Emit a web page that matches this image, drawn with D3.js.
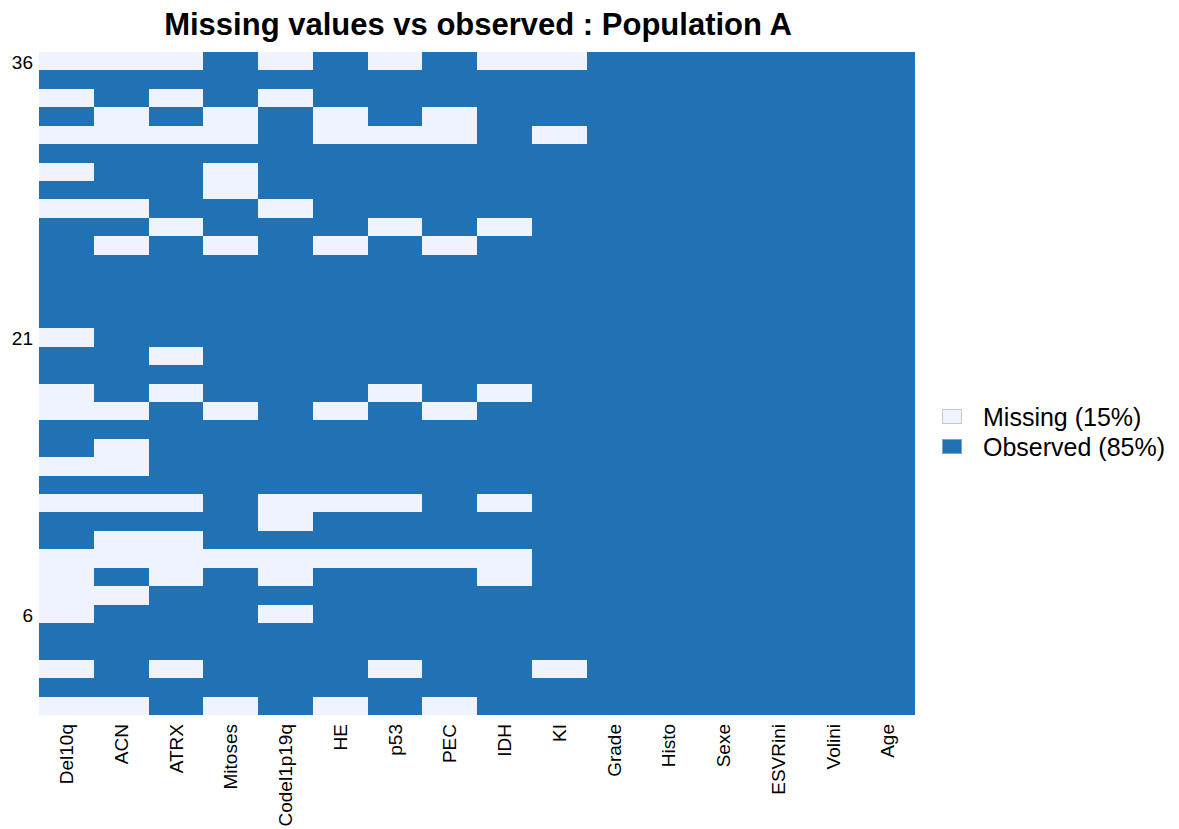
<!DOCTYPE html>
<html>
<head>
<meta charset="utf-8">
<script src="https://cdn.jsdelivr.net/npm/d3@7"></script>
<style>
  html, body { margin: 0; padding: 0; background: #fff; }
  svg { display: block; font-family: "Liberation Sans", Arial, sans-serif; }
</style>
</head>
<body>
<svg id="chart" width="1179" height="829"></svg>
<script>
// ---- data ----
const title = "Missing values vs observed : Population A";
const variables = ["Del10q", "ACN", "ATRX", "Mitoses", "Codel1p19q", "HE", "p53", "PEC", "IDH", "KI",
                   "Grade", "Histo", "Sexe", "ESVRini", "Volini", "Age"];
// row ids from top to bottom
const rowIds = d3.range(36, 0, -1);
// y tick labels
const yTickLabels = [36, 21, 6];
// missing pattern per row (top row first), one char per variable: 1 = missing, 0 = observed
const missingPattern = [
  "1110101011000000", // 36
  "0000000000000000", // 35
  "1010100000000000", // 34
  "0101010100000000", // 33
  "1111011101000000", // 32
  "0000000000000000", // 31
  "1001000000000000", // 30
  "0001000000000000", // 29
  "1100100000000000", // 28
  "0010001010000000", // 27
  "0101010100000000", // 26
  "0000000000000000", // 25
  "0000000000000000", // 24
  "0000000000000000", // 23
  "0000000000000000", // 22
  "1000000000000000", // 21
  "0010000000000000", // 20
  "0000000000000000", // 19
  "1010001010000000", // 18
  "1101010100000000", // 17
  "0000000000000000", // 16
  "0100000000000000", // 15
  "1100000000000000", // 14
  "0000000000000000", // 13
  "1110111010000000", // 12
  "0000100000000000", // 11
  "0110000000000000", // 10
  "1111111110000000", // 9
  "1010100010000000", // 8
  "1100000000000000", // 7
  "1000100000000000", // 6
  "0000000000000000", // 5
  "0000000000000000", // 4
  "1010001001000000", // 3
  "0000000000000000", // 2
  "1101010100000000"  // 1
];
const legendNames = ["Missing", "Observed"];
const colors = { Missing: "#EFF3FF", Observed: "#2171B5" };

// ---- layout ----
const svg = d3.select("#chart");
const plotLeft = 39, plotRight = 915, plotTop = 52, plotBottom = 715;

const x = d3.scaleBand().domain(variables).range([plotLeft, plotRight]).padding(0);
const y = d3.scaleBand().domain(rowIds).range([plotTop, plotBottom]).padding(0);

const cells = [];
rowIds.forEach((rid, i) => {
  variables.forEach((v, j) => {
    cells.push({ row: rid, variable: v, missing: missingPattern[i][j] === "1" });
  });
});

const nMissing = cells.filter(c => c.missing).length;
const pctMissing = Math.round(100 * nMissing / cells.length);
const legendLabels = [`Missing (${pctMissing}%)`, `Observed (${100 - pctMissing}%)`];

// title
svg.append("text")
  .attr("x", 478)
  .attr("y", 35)
  .attr("text-anchor", "middle")
  .attr("font-weight", "bold")
  .attr("font-size", 31)
  .attr("fill", "#000")
  .text(title);

// cells
svg.append("g")
  .attr("shape-rendering", "crispEdges")
  .selectAll("rect")
  .data(cells)
  .join("rect")
  .attr("x", d => x(d.variable))
  .attr("y", d => y(d.row))
  .attr("width", x.bandwidth())
  .attr("height", y.bandwidth())
  .attr("fill", d => d.missing ? colors.Missing : colors.Observed);

// y axis
const yAxis = d3.axisLeft(y).tickValues(yTickLabels).tickSize(0).tickPadding(6);
const gy = svg.append("g").attr("transform", `translate(${plotLeft},0)`).call(yAxis);
gy.select(".domain").remove();
gy.selectAll("text")
  .attr("font-family", "Liberation Sans, Arial, sans-serif")
  .attr("font-size", 19)
  .attr("dy", "0.42em")
  .attr("fill", "#000");

// x axis labels (rotated)
const xAxis = d3.axisBottom(x).tickSize(0).tickPadding(0);
const gx = svg.append("g").attr("transform", `translate(0,${plotBottom})`).call(xAxis);
gx.select(".domain").remove();
gx.selectAll("text")
  .attr("font-family", "Liberation Sans, Arial, sans-serif")
  .attr("font-size", 19)
  .attr("fill", "#000")
  .attr("text-anchor", "end")
  .attr("transform", "rotate(-90)")
  .attr("x", -9)
  .attr("y", 0)
  .attr("dy", "0.36em");

// legend
const legend = svg.append("g").attr("transform", "translate(942,0)");
const legendY = [409, 439];
legendNames.forEach((name, i) => {
  legend.append("rect")
    .attr("x", 0.5)
    .attr("y", legendY[i] + 0.5)
    .attr("width", 19)
    .attr("height", 14)
    .attr("fill", colors[name])
    .attr("stroke", i === 0 ? "#c8c8c8" : "#7fa6cf")
    .attr("stroke-width", 1);
  legend.append("text")
    .attr("x", 41)
    .attr("y", legendY[i] + 17)
    .attr("font-size", 25)
    .attr("fill", "#000")
    .text(legendLabels[i]);
});
</script>
</body>
</html>
